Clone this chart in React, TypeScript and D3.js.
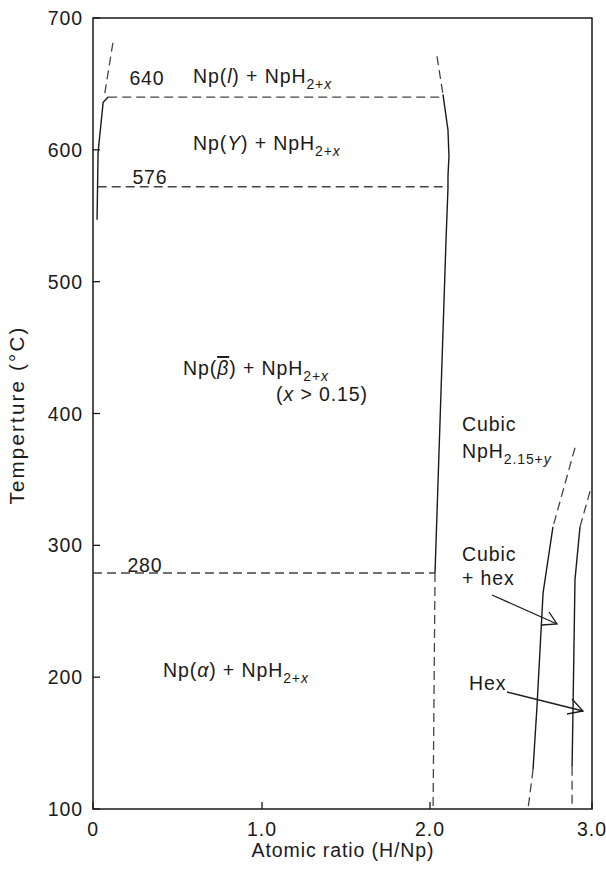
import React from "react";
import * as d3 from "d3";

const W = 606;
const H = 869;

const xTicks = [0, 1, 2, 3];
const xTickLabels = ["0", "1.0", "2.0", "3.0"];
const yTicks = [100, 200, 300, 400, 500, 600, 700];

// phase boundary curves [H/Np, °C]
const leftSolid: [number, number][] = [[0.024, 547], [0.03, 598], [0.06, 636], [0.09, 640]];
const leftDashed: [number, number][] = [[0.07, 643], [0.12, 683]];
const rightDashedTop: [number, number][] = [[2.043, 671], [2.08, 642]];
const rightSolid: [number, number][] = [[2.08, 642], [2.111, 615], [2.117, 595], [2.111, 580], [2.111, 571], [2.099, 532], [2.031, 279]];
const rightDashedBottom: [number, number][] = [[2.031, 279], [2.019, 100]];
const cubicDashedTop: [number, number][] = [[2.895, 374], [2.759, 314]];
const cubicSolid: [number, number][] = [[2.759, 314], [2.698, 264], [2.66, 177], [2.636, 130]];
const cubicDashedBottom: [number, number][] = [[2.636, 130], [2.605, 100]];
const hexDashedTop: [number, number][] = [[2.988, 341], [2.926, 314]];
const hexSolid: [number, number][] = [[2.926, 314], [2.895, 274], [2.883, 177], [2.877, 132]];
const hexDashedBottom: [number, number][] = [[2.877, 132], [2.877, 100]];

// isotherms: [xStart, xEnd, temperature]
const isotherms: [number, number, number][] = [
  [0.09, 2.08, 640],
  [0.028, 2.111, 572],
  [0, 2.031, 279],
];
const isothermLabels = ["640", "576", "280"];

export default function App() {
  const x = d3.scaleLinear().domain(xTicks).range([93, 262, 430, 592]);
  const y = d3.scaleLinear().domain([100, 700]).range([809, 18]);
  const line = d3
    .line<[number, number]>()
    .x((d) => x(d[0]))
    .y((d) => y(d[1]));

  const font = "'Liberation Sans', Arial, Helvetica, sans-serif";
  const solid = { fill: "none", stroke: "#1a1a1a", strokeWidth: 1.4 };
  const dashed = { fill: "none", stroke: "#444", strokeWidth: 1.3, strokeDasharray: "9,5" };
  const fs = 19.5;
  const sub = 14;
  const ls = 0.9;
  const ink = "#1a1a1a";

  const isoLabelPos: [number, number][] = [
    [147, 85],
    [150, 184],
    [145, 572],
  ];

  return (
    <svg width={W} height={H} style={{ display: "block", position: "absolute", left: 0, top: 0 }} fontFamily={font} letterSpacing={ls}>
      <rect x={0} y={0} width={W} height={H} fill="#fff" />
      {/* frame */}
      <rect x={x(0)} y={y(700)} width={x(3) - x(0)} height={y(100) - y(700)} fill="none" stroke={ink} strokeWidth={1.5} />
      {yTicks.map((t) => (
        <g key={t}>
          <line x1={x(0)} x2={x(0) + 7} y1={y(t)} y2={y(t)} stroke={ink} strokeWidth={1.3} />
          <text x={83} y={y(t) + 7} textAnchor="end" fontSize={fs} fill={ink}>
            {t}
          </text>
        </g>
      ))}
      {xTicks.map((t, i) => (
        <g key={t}>
          <line x1={x(t)} x2={x(t)} y1={y(100)} y2={y(100) - 7} stroke={ink} strokeWidth={1.3} />
          <text x={x(t)} y={836} textAnchor="middle" fontSize={fs} fill={ink}>
            {xTickLabels[i]}
          </text>
        </g>
      ))}
      <text x={343} y={857} textAnchor="middle" fontSize={fs} fill={ink}>
        Atomic ratio (H/Np)
      </text>
      <text transform="translate(24,415) rotate(-90)" textAnchor="middle" fontSize={20.5} letterSpacing={2.2} fill={ink}>
        Temperture (°C)
      </text>

      {/* isotherms */}
      {isotherms.map((d, i) => (
        <g key={i}>
          <path d={line([[d[0], d[2]], [d[1], d[2]]])!} {...dashed} />
          <text x={isoLabelPos[i][0]} y={isoLabelPos[i][1]} textAnchor="middle" fontSize={fs} fill={ink}>
            {isothermLabels[i]}
          </text>
        </g>
      ))}

      {/* boundaries */}
      <path d={line(leftSolid)!} {...solid} />
      <path d={line(leftDashed)!} {...dashed} />
      <path d={line(rightDashedTop)!} {...dashed} />
      <path d={line(rightSolid)!} {...solid} />
      <path d={line(rightDashedBottom)!} {...dashed} />
      <path d={line(cubicDashedTop)!} {...dashed} />
      <path d={line(cubicSolid)!} {...solid} />
      <path d={line(cubicDashedBottom)!} {...dashed} />
      <path d={line(hexDashedTop)!} {...dashed} />
      <path d={line(hexSolid)!} {...solid} />
      <path d={line(hexDashedBottom)!} {...dashed} />

      {/* region labels */}
      <text x={193} y={83} fontSize={fs} fill={ink}>
        Np(<tspan fontStyle="italic">l</tspan>) + NpH
        <tspan dy={5.5} fontSize={sub}>2+</tspan>
        <tspan fontSize={sub} fontStyle="italic">x</tspan>
      </text>
      <text x={193} y={150} fontSize={fs} fill={ink}>
        Np(<tspan fontStyle="italic">Y</tspan>) + NpH
        <tspan dy={5.5} fontSize={sub}>2+</tspan>
        <tspan fontSize={sub} fontStyle="italic">x</tspan>
      </text>
      <text x={183} y={375} fontSize={fs} fill={ink}>
        Np(<tspan fontStyle="italic" textDecoration="overline">β</tspan>) + NpH
        <tspan dy={5.5} fontSize={sub}>2+</tspan>
        <tspan fontSize={sub} fontStyle="italic">x</tspan>
      </text>
      <text x={276} y={401} fontSize={fs} fill={ink}>
        (<tspan fontStyle="italic">x</tspan> {">"} 0.15)
      </text>
      <text x={163} y={677} fontSize={fs} fill={ink}>
        Np(<tspan fontStyle="italic">α</tspan>) + NpH
        <tspan dy={5.5} fontSize={sub}>2+</tspan>
        <tspan fontSize={sub} fontStyle="italic">x</tspan>
      </text>
      <text x={462} y={431} fontSize={fs} fill={ink}>Cubic</text>
      <text x={462} y={458} fontSize={fs} fill={ink}>
        NpH
        <tspan dy={5.5} fontSize={sub}>2.15+</tspan>
        <tspan fontSize={sub} fontStyle="italic">y</tspan>
      </text>
      <text x={462} y={561} fontSize={fs} fill={ink}>Cubic</text>
      <text x={462} y={585} fontSize={fs} fill={ink}>+ hex</text>
      <text x={469} y={690} fontSize={fs} fill={ink}>Hex</text>

      {/* arrows */}
      <g fill="none" stroke={ink} strokeWidth={1.3}>
        <line x1={492} y1={595} x2={557} y2={624} />
        <polyline points="549,612 557,624 542,625" />
        <line x1={507} y1={692} x2={583} y2={711} />
        <polyline points="572,699 583,711 567,714" />
      </g>
    </svg>
  );
}
